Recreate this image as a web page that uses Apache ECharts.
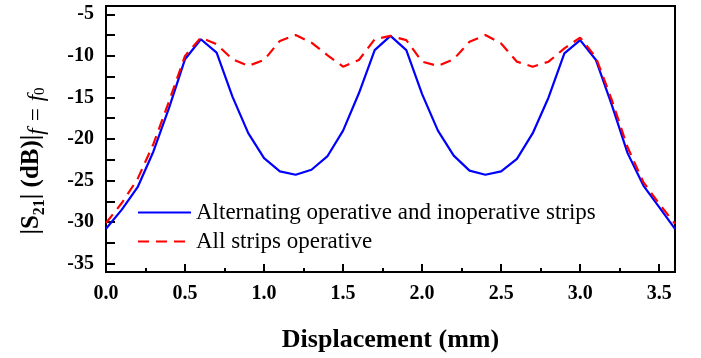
<!DOCTYPE html>
<html>
<head>
<meta charset="utf-8">
<script src="https://cdn.jsdelivr.net/npm/echarts@6/dist/echarts.min.js"></script>
<style>
  html, body { margin: 0; padding: 0; background: #fff; }
  #chart { width: 701px; height: 358px; }
</style>
</head>
<body>
<div id="chart"></div>
<script>
const displacement = [
  0.0, 0.1, 0.2, 0.3, 0.4, 0.5, 0.6, 0.7, 0.8, 0.9,
  1.0, 1.1, 1.2, 1.3, 1.4, 1.5, 1.6, 1.7, 1.8, 1.9,
  2.0, 2.1, 2.2, 2.3, 2.4, 2.5, 2.6, 2.7, 2.8, 2.9,
  3.0, 3.1, 3.2, 3.3, 3.4, 3.5, 3.6
];
const alternating = [
  -30.8, -28.5, -25.8, -21.5, -16.2, -10.4, -8.0, -9.6, -14.9, -19.3,
  -22.3, -23.9, -24.3, -23.7, -22.1, -19.0, -14.5, -9.3, -7.6, -9.3,
  -14.6, -19.0, -22.0, -23.8, -24.3, -23.9, -22.4, -19.3, -15.0, -9.7,
  -8.1, -10.5, -15.9, -21.7, -25.6, -28.2, -30.8
];
const allOperative = [
  -30.1, -27.7, -24.8, -20.6, -15.4, -10.0, -7.8, -8.6, -10.4, -11.2,
  -10.5, -8.2, -7.5, -8.4, -9.9, -11.3, -10.5, -8.0, -7.6, -8.1,
  -10.7, -11.2, -10.4, -8.3, -7.5, -8.5, -10.7, -11.3, -10.7, -9.1,
  -7.8, -10.2, -15.3, -21.0, -25.2, -27.8, -30.2
];
const xMajorTicks = [0, 0.5, 1.0, 1.5, 2.0, 2.5, 3.0, 3.5];
const xMinorTicks = [0.25, 0.75, 1.25, 1.75, 2.25, 2.75, 3.25];
const yLabels = [-35, -30, -25, -20, -15, -10, -5];
const yTicks = [-35, -32.5, -30, -27.5, -25, -22.5, -20, -17.5, -15, -12.5, -10, -7.5, -5];

const serif = "'Liberation Serif', 'Times New Roman', serif";
const black = { color: "#000", width: 2 };

const chart = echarts.init(document.getElementById("chart"), null, { renderer: "canvas" });

chart.setOption({
  animation: false,
  backgroundColor: "#fff",
  grid: {
    left: 106, right: 26, top: 6, bottom: 86,
    show: true, borderColor: "#000", borderWidth: 2, backgroundColor: "transparent"
  },
  legend: {
    orient: "vertical",
    left: 137, top: 201,
    itemWidth: 53, itemHeight: 14, itemGap: 6,
    padding: 0,
    itemStyle: { opacity: 0 },
    textStyle: { fontFamily: serif, fontSize: 23, color: "#000", lineHeight: 23 },
    data: ["Alternating operative and inoperative strips", "All strips operative"]
  },
  xAxis: [
    {
      type: "value", min: 0, max: 3.6, position: "bottom",
      name: "Displacement (mm)", nameLocation: "middle", nameGap: 55,
      nameTextStyle: { fontFamily: serif, fontSize: 26, fontWeight: "bold", color: "#000" },
      axisLine: { show: true, onZero: false, lineStyle: black },
      axisTick: { inside: true, length: 8, customValues: xMajorTicks, lineStyle: black },
      axisLabel: {
        customValues: xMajorTicks, margin: 12,
        fontFamily: serif, fontSize: 20, fontWeight: "bold", color: "#000",
        formatter: (v) => v.toFixed(1)
      },
      splitLine: { show: false }
    },
    {
      type: "value", min: 0, max: 3.6, position: "bottom",
      axisLine: { show: false },
      axisTick: { inside: true, length: 4, customValues: xMinorTicks, lineStyle: black },
      axisLabel: { show: false },
      splitLine: { show: false }
    }
  ],
  yAxis: {
    type: "value", min: -36, max: -4,
    name: "{b|\u007CS}{s|21}{b|\u007C (dB)\u007C}{i|f = f}{z|0}",
    nameLocation: "middle", nameRotate: 90, nameGap: 58,
    nameTextStyle: {
      color: "#000",
      padding: [0, 44, 0, 0],
      rich: {
        b: { fontFamily: serif, fontSize: 25, fontWeight: "bold", color: "#000", lineHeight: 32 },
        s: { fontFamily: serif, fontSize: 16, fontWeight: "bold", color: "#000", lineHeight: 12, verticalAlign: "bottom" },
        i: { fontFamily: serif, fontSize: 23, fontStyle: "italic", color: "#000", lineHeight: 16, verticalAlign: "bottom" },
        z: { fontFamily: serif, fontSize: 15, color: "#000", lineHeight: 6, verticalAlign: "bottom" }
      }
    },
    axisLine: { show: true, onZero: false, lineStyle: black },
    axisTick: { inside: true, length: 9, customValues: yTicks, lineStyle: black },
    axisLabel: {
      customValues: yLabels, margin: 12,
      fontFamily: serif, fontSize: 20, fontWeight: "bold", color: "#000"
    },
    splitLine: { show: false }
  },
  series: [
    {
      name: "Alternating operative and inoperative strips",
      type: "line",
      symbol: "none",
      data: displacement.map((x, i) => [x, alternating[i]]),
      lineStyle: { color: "#0000ff", width: 2.2 },
      itemStyle: { color: "#0000ff" }
    },
    {
      name: "All strips operative",
      type: "line",
      symbol: "none",
      data: displacement.map((x, i) => [x, allOperative[i]]),
      lineStyle: { color: "#ff0000", width: 2.2, type: [11, 7] },
      itemStyle: { color: "#ff0000" }
    }
  ]
});
</script>
</body>
</html>
